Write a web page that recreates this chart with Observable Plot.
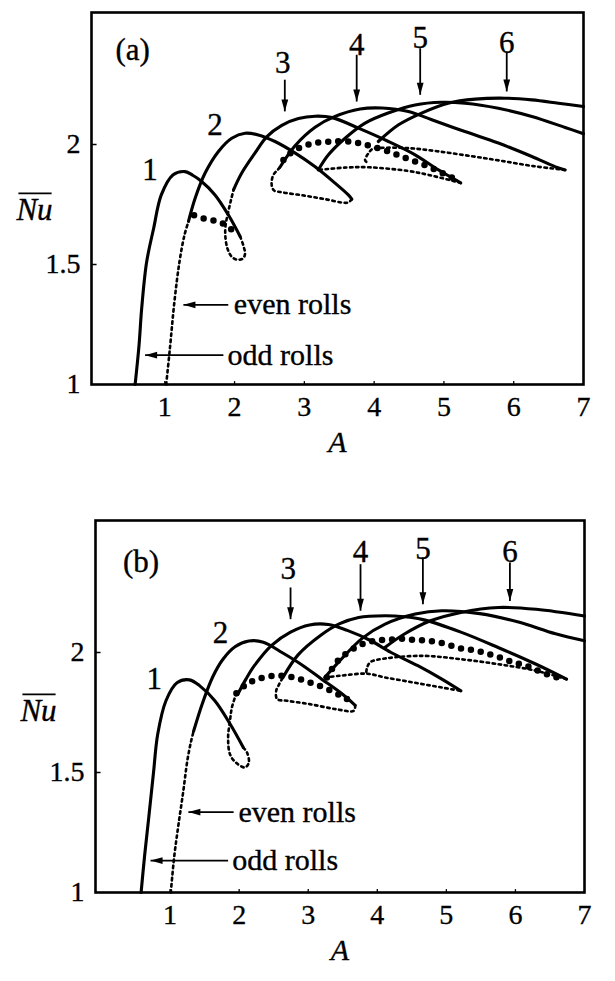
<!DOCTYPE html>
<html>
<head>
<meta charset="utf-8">
<script src="https://cdn.jsdelivr.net/npm/d3@7"></script>
<script src="https://cdn.jsdelivr.net/npm/@observablehq/plot@0.6"></script>
<style>
  html, body { margin: 0; padding: 0; background: #fff; }
  #chart { width: 615px; }
  #chart svg { display: block; }
  #chart svg text { stroke: black; stroke-width: 0.35px; }
</style>
</head>
<body>
<div id="chart"></div>
<script>
// Mean Nusselt number against aspect ratio A for 1..6 roll branches.
// Each branch is a list of [A, Nu] pairs.

const xTicks = [1, 2, 3, 4, 5, 6, 7];
const yTicks = [1, 1.5, 2];

// ---------- panel (a) ----------
const a_odd1 = [[0.575,1.0],[0.63,1.16],[0.67,1.32],[0.74,1.51],[0.84,1.65],[0.95,1.79],[1.12,1.874],[1.29,1.887],[1.40,1.872],[1.52,1.848],[1.72,1.79],[1.91,1.707],[2.08,1.617]];
const a_evenRise = [[1.02,1.0],[1.07,1.14],[1.14,1.35],[1.21,1.51],[1.28,1.62],[1.34,1.68]];
const a_even2 = [[1.34,1.68],[1.435,1.776],[1.578,1.881],[1.769,1.971],[1.96,2.026],[2.15,2.047],[2.34,2.04],[2.58,2.0125],[2.87,1.964],[3.15,1.908],[3.44,1.839],[3.63,1.79],[3.68,1.772]];
const a_odd3 = [[1.985,1.811],[2.103,1.881],[2.294,1.965],[2.46,2.032],[2.677,2.08],[2.915,2.108],[3.154,2.118],[3.4,2.112],[3.775,2.068],[4.205,2.0125],[4.587,1.957],[4.873,1.903],[5.08,1.867],[5.24,1.84]];
const a_even4 = [[2.65,1.905],[2.867,1.995],[3.154,2.072],[3.44,2.117],[3.8,2.148],[4.11,2.152],[4.49,2.1375],[4.826,2.103],[5.30,2.054],[5.78,2.006],[6.26,1.95],[6.59,1.908],[6.736,1.894]];
const a_odd5 = [[3.2,1.894],[3.345,1.957],[3.584,2.026],[3.87,2.089],[4.2,2.131],[4.587,2.165],[4.97,2.176],[5.30,2.172],[5.78,2.151],[6.26,2.117],[6.736,2.071],[7.0,2.045]];
const a_even6 = [[4.06,2.0125],[4.35,2.082],[4.68,2.131],[5.06,2.172],[5.45,2.189],[5.875,2.193],[6.26,2.186],[6.64,2.172],[7.0,2.158]];
const a_mixed1 = [[1.42,1.705],[1.60,1.688],[1.75,1.68],[1.87,1.665],[1.98,1.64],[2.05,1.625]];
const a_mixed2 = [[2.70,1.935],[2.77,1.957],[2.92,1.985],[3.15,2.006],[3.39,2.0125],[3.63,2.0125],[3.775,2.006],[3.92,1.996],[4.2,1.971],[4.39,1.95],[4.587,1.929],[4.78,1.908],[4.97,1.882],[5.13,1.86],[5.24,1.845]];
const a_link13 = [[2.08,1.617],[2.13,1.575],[2.15,1.545],[2.12,1.525],[2.04,1.52],[1.96,1.532],[1.9,1.565],[1.87,1.61],[1.87,1.66],[1.91,1.72],[1.95,1.77],[1.985,1.811]];
const a_link24 = [[3.68,1.772],[3.62,1.758],[3.3,1.772],[3.0,1.787],[2.7,1.80],[2.56,1.81],[2.53,1.84],[2.56,1.875],[2.62,1.895],[2.65,1.905]];
const a_link35 = [[5.24,1.84],[4.8,1.872],[4.48,1.89],[3.93,1.905],[3.6,1.904],[3.2,1.894]];
const a_link46 = [[6.736,1.894],[6.28,1.91],[5.8,1.933],[5.38,1.952],[4.9,1.972],[4.48,1.985],[4.1,1.986],[3.98,1.982],[3.92,1.964],[3.87,1.935],[3.9,1.925]];

// ---------- panel (b) ----------
const b_odd1 = [[0.58,1.0],[0.63,1.15],[0.69,1.31],[0.76,1.5],[0.82,1.658],[0.94,1.799],[1.1,1.874],[1.28,1.886],[1.43,1.861],[1.648,1.799],[1.867,1.703],[2.06,1.604]];
const b_evenRise = [[1.01,1.0],[1.06,1.15],[1.12,1.28],[1.19,1.42],[1.25,1.55],[1.30,1.625],[1.34,1.672]];
const b_even2 = [[1.34,1.672],[1.47,1.79],[1.62,1.9],[1.76,1.97],[1.94,2.024],[2.14,2.048],[2.35,2.043],[2.62,2.0],[2.9,1.95],[3.19,1.89],[3.47,1.832],[3.68,1.78]];
const b_odd3 = [[1.98,1.826],[2.1,1.89],[2.22,1.945],[2.47,2.03],[2.744,2.085],[3.018,2.115],[3.29,2.117],[3.566,2.092],[3.9,2.05],[4.2,2.0],[4.587,1.945],[4.935,1.889],[5.21,1.84]];
const b_even4 = [[2.634,1.896],[2.853,1.99],[3.182,2.072],[3.456,2.12],[3.73,2.146],[4.113,2.153],[4.387,2.149],[4.66,2.137],[5.21,2.085],[5.757,2.02],[6.3,1.951],[6.74,1.889]];
const b_odd5 = [[3.24,1.896],[3.456,1.965],[3.785,2.06],[4.113,2.118],[4.55,2.16],[4.935,2.174],[5.483,2.162],[6.03,2.128],[6.58,2.078],[7.0,2.049]];
const b_even6 = [[4.11,2.021],[4.387,2.076],[4.77,2.132],[5.21,2.167],[5.757,2.1875],[6.3,2.18],[7.0,2.152]];
const b_mixed1 = [[1.96,1.83],[2.08,1.862],[2.23,1.885],[2.42,1.9],[2.6,1.903],[2.8,1.895],[3.0,1.877],[3.2,1.857],[3.4,1.83],[3.55,1.808],[3.66,1.785]];
const b_mixed2 = [[3.27,1.896],[3.43,1.966],[3.613,2.008],[3.794,2.036],[3.975,2.05],[4.157,2.053],[4.338,2.057],[4.52,2.053],[4.7,2.05],[4.882,2.043],[5.064,2.029],[5.245,2.015],[5.43,2.008],[5.607,1.994],[5.79,1.978],[5.97,1.959],[6.152,1.945],[6.33,1.924],[6.514,1.903],[6.7,1.889]];
const b_link13 = [[2.06,1.604],[2.114,1.583],[2.14,1.542],[2.086,1.521],[1.95,1.542],[1.867,1.576],[1.84,1.646],[1.867,1.715],[1.895,1.771],[1.96,1.83]];
const b_link24 = [[3.68,1.78],[3.66,1.757],[3.4,1.764],[3.018,1.785],[2.69,1.799],[2.55,1.806],[2.536,1.84],[2.58,1.868],[2.634,1.896]];
const b_link35 = [[3.24,1.896],[3.456,1.903],[3.785,1.912],[3.9,1.91],[4.113,1.896],[4.387,1.882],[4.66,1.868],[4.935,1.854],[5.21,1.84]];
const b_link46 = [[6.74,1.889],[6.3,1.924],[5.757,1.951],[5.21,1.972],[4.66,1.986],[4.113,1.975],[3.9,1.96],[3.85,1.935],[3.84,1.915]];

// roll-number labels and their pointers
const a_numLabels = [
  {A: 0.54, Nu: 2.394, text: "(a)"},
  {A: 0.79, Nu: 1.894, text: "1"},
  {A: 1.72, Nu: 2.082, text: "2"},
  {A: 2.69, Nu: 2.339, text: "3"},
  {A: 3.75, Nu: 2.415, text: "4"},
  {A: 4.66, Nu: 2.443, text: "5"},
  {A: 5.9, Nu: 2.422, text: "6"}
];
const a_pointers = [
  {A: 2.72, top: 2.27, tip: 2.138},
  {A: 3.75, top: 2.374, tip: 2.179},
  {A: 4.66, top: 2.401, tip: 2.207},
  {A: 5.9, top: 2.388, tip: 2.221}
];
const b_numLabels = [
  {A: 0.58, Nu: 2.375, text: "(b)"},
  {A: 0.77, Nu: 1.889, text: "1"},
  {A: 1.73, Nu: 2.083, text: "2"},
  {A: 2.71, Nu: 2.347, text: "3"},
  {A: 3.757, Nu: 2.417, text: "4"},
  {A: 4.66, Nu: 2.43, text: "5"},
  {A: 5.92, Nu: 2.417, text: "6"}
];
const b_pointers = [
  {A: 2.744, top: 2.271, tip: 2.139},
  {A: 3.757, top: 2.368, tip: 2.174},
  {A: 4.66, top: 2.396, tip: 2.201},
  {A: 5.92, top: 2.375, tip: 2.215}
];

// "even rolls" / "odd rolls" call-outs
const a_rollNotes = [
  {text: "even rolls", A: 1.99, Nu: 1.332, from: 1.91, to: 1.267},
  {text: "odd rolls", A: 1.9, Nu: 1.122, from: 1.84, to: 0.718}
];
const b_rollNotes = [
  {text: "even rolls", A: 1.99, Nu: 1.335, from: 1.92, to: 1.265},
  {text: "odd rolls", A: 1.9, Nu: 1.133, from: 1.84, to: 0.717}
];

const panelA = {
  stable: {odd1: a_odd1, even2: a_even2, odd3: a_odd3, even4: a_even4, odd5: a_odd5, even6: a_even6},
  unstable: {evenRise: a_evenRise, link13: a_link13, link24: a_link24, link35: a_link35, link46: a_link46},
  mixed: {mixed1: a_mixed1, mixed2: a_mixed2},
  labels: a_numLabels, pointers: a_pointers, notes: a_rollNotes
};
const panelB = {
  stable: {odd1: b_odd1, even2: b_even2, odd3: b_odd3, even4: b_even4, odd5: b_odd5, even6: b_even6},
  unstable: {evenRise: b_evenRise, link13: b_link13, link24: b_link24, link35: b_link35, link46: b_link46},
  mixed: {mixed1: b_mixed1, mixed2: b_mixed2},
  labels: b_numLabels, pointers: b_pointers, notes: b_rollNotes
};

// flatten named branches into rows for Plot.line
function toRows(group) {
  return Object.entries(group).flatMap(([name, pts]) => pts.map(([A, Nu]) => ({name, A, Nu})));
}

// narrow filled arrowheads with the tip at the anchor point
const headDown = {draw(ctx) { ctx.moveTo(0, 0); ctx.lineTo(-3.4, -12); ctx.lineTo(3.4, -12); ctx.closePath(); }};
const headLeft = {draw(ctx) { ctx.moveTo(0, 0); ctx.lineTo(12, -3.4); ctx.lineTo(12, 3.4); ctx.closePath(); }};

const serif = '"Liberation Serif", "Times New Roman", serif';

function panel(p, layout) {
  return Plot.plot({
    width: 615,
    height: layout.height,
    marginTop: layout.top,
    marginBottom: layout.bottom,
    marginLeft: layout.left,
    marginRight: layout.right,
    x: {domain: layout.xDomain},
    y: {domain: [1, 2.55]},
    style: {fontFamily: serif, fontSize: "28px", color: "black", background: "white", overflow: "visible"},
    marks: [
      Plot.frame({stroke: "black", strokeWidth: 2.6}),
      Plot.ruleX(xTicks.slice(0, -1), {x: d => d, y1: 1, y2: 1.012, stroke: "black", strokeWidth: 1.3}),
      Plot.ruleY(yTicks.slice(1), {y: d => d, x1: layout.xDomain[0], x2: layout.xDomain[0] + 0.08, stroke: "black", strokeWidth: 1.5}),
      Plot.axisX({ticks: xTicks, tickSize: 0, tickPadding: 12, tickFormat: d => String(d), label: null, fontSize: 28}),
      Plot.axisY({ticks: yTicks, tickSize: 0, tickPadding: 11, tickFormat: d => String(d), label: null, fontSize: 28}),
      Plot.text(["A"], {text: d => d, frameAnchor: "bottom", dy: 67, fontStyle: "italic", fontSize: 30}),
      Plot.text(["Nu"], {text: d => d, frameAnchor: "left", textAnchor: "middle", dx: -57, dy: layout.nuDy, fontStyle: "italic", fontSize: 31}),
      Plot.line(toRows(p.unstable), {x: "A", y: "Nu", z: "name", curve: "catmull-rom", stroke: "black", strokeWidth: 2.6, strokeDasharray: "2.5,3.6"}),
      Plot.line(toRows(p.mixed), {x: "A", y: "Nu", z: "name", curve: "catmull-rom", stroke: "black", strokeWidth: 6.5, strokeDasharray: "0,10", strokeLinecap: "round"}),
      Plot.line(toRows(p.stable), {x: "A", y: "Nu", z: "name", curve: "catmull-rom", stroke: "black", strokeWidth: 3.1}),
      Plot.link(p.pointers, {x1: "A", x2: "A", y1: "top", y2: "tip", stroke: "black", strokeWidth: 1.8}),
      Plot.dot(p.pointers, {x: "A", y: "tip", symbol: headDown, fill: "black", stroke: "none"}),
      Plot.text(p.labels, {x: "A", y: "Nu", text: "text", fontSize: 31}),
      Plot.link(p.notes, {x1: "from", x2: "to", y1: "Nu", y2: "Nu", stroke: "black", strokeWidth: 1.8}),
      Plot.dot(p.notes, {x: "to", y: "Nu", symbol: headLeft, fill: "black", stroke: "none"}),
      Plot.text(p.notes, {x: "A", y: "Nu", text: "text", textAnchor: "start", fontSize: 30})
    ]
  });
}

const chart = document.getElementById("chart");
chart.appendChild(panel(panelA, {height: 480, top: 12, bottom: 96, left: 91, right: 32, xDomain: [-0.05, 7], nuDy: 12}));
chart.appendChild(panel(panelB, {height: 501, top: 40, bottom: 89, left: 95, right: 31, xDomain: [-0.08, 7], nuDy: 5}));

// overbar for the mean Nusselt number symbol, drawn in the text's own frame
d3.select(chart).selectAll("text").filter(function () { return this.textContent === "Nu"; }).each(function () {
  const b = this.getBBox();
  d3.select(this.parentNode).append("line")
    .attr("transform", this.getAttribute("transform"))
    .attr("x1", b.x + 3).attr("x2", b.x + b.width - 1)
    .attr("y1", b.y + 1).attr("y2", b.y + 1)
    .attr("stroke", "black").attr("stroke-width", 1.8);
});
</script>
</body>
</html>
